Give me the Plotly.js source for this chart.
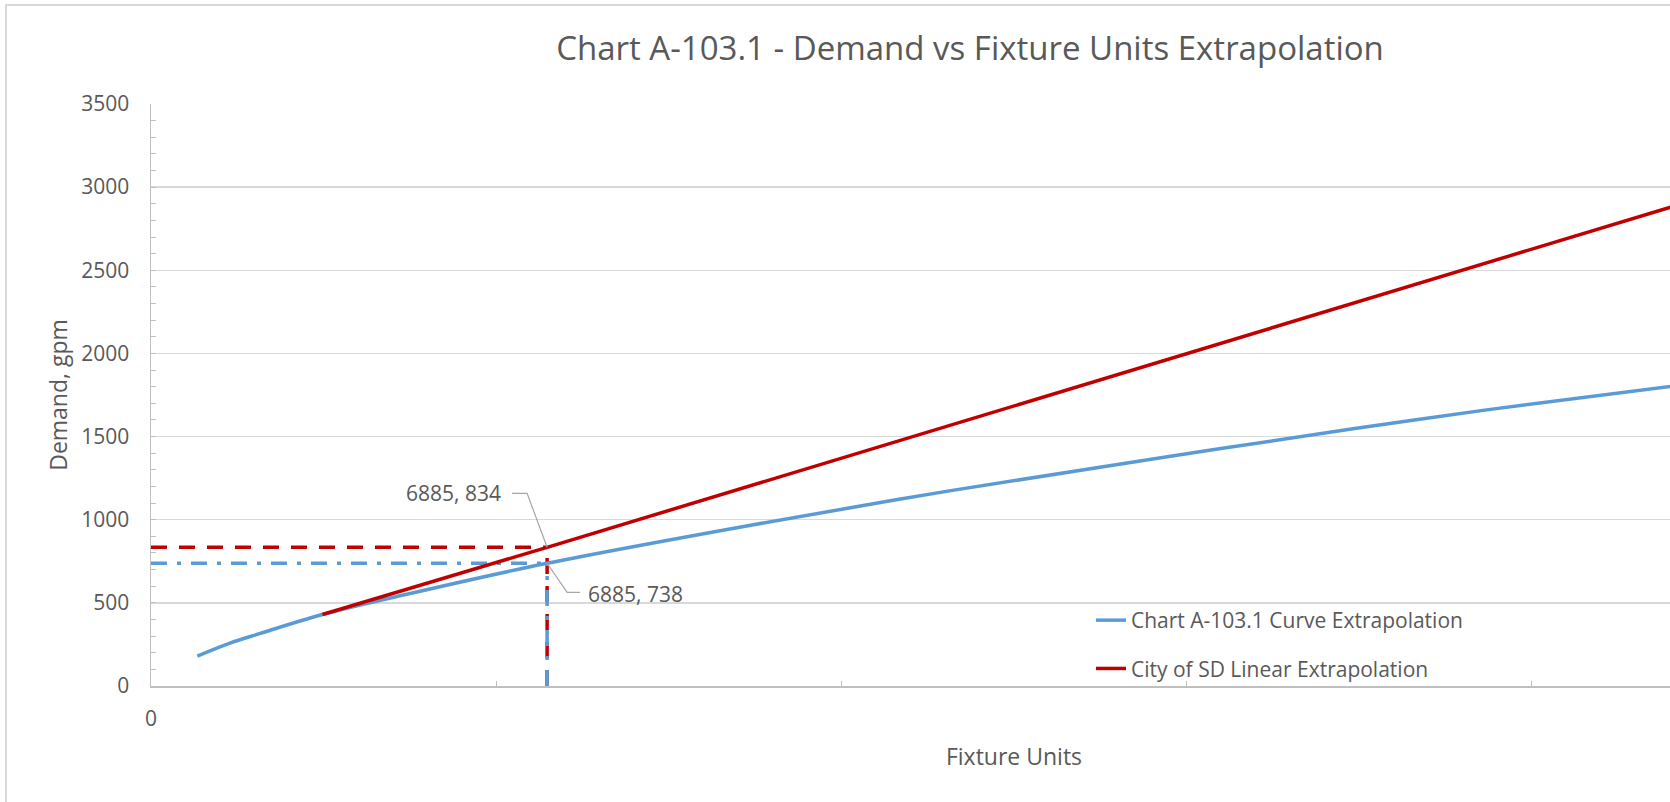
<!DOCTYPE html>
<html>
<head>
<meta charset="utf-8">
<script src="https://cdn.plot.ly/plotly-3.0.1.min.js"></script>
<style>
  html, body { margin: 0; padding: 0; overflow: hidden; background: #ffffff; width: 1670px; height: 802px; }
  #chart { width: 1940px; height: 802px; }
</style>
</head>
<body>
<div id="chart"></div>
<script>
// ---- Data ----
const curveFixtureUnits = [806, 1350, 1897, 2980, 4500, 6885, 10423, 13903, 17383, 20863, 23183, 26500];
const curveDemand       = [180, 255, 316, 430, 556, 738, 967, 1175, 1364, 1545, 1659, 1806];

const linearFixtureUnits = [2980, 6885, 26500];
const linearDemand       = [430, 834, 2889];

const designFixtureUnits = 6885;
const designDemandLinear = 834;
const designDemandCurve  = 738;

const xTickValues = [0, 6000, 12000, 18000, 24000, 30000];
const xTickLabels = ['0', '', '', '', '', ''];

const seriesNames = ['Chart A-103.1 Curve Extrapolation', 'City of SD Linear Extrapolation'];

// ---- Styles ----
const BLUE = '#5b9bd5';
const RED = '#c00000';
const TEXT = '#595959';
const FONT = 'Open Sans, sans-serif';

const traces = [
  { // red dashed horizontal guide
    x: [0, designFixtureUnits], y: [designDemandLinear, designDemandLinear],
    mode: 'lines', showlegend: false, hoverinfo: 'skip',
    line: { color: RED, width: 3.5, dash: '16px,12px' }
  },
  { // blue dash-dot horizontal guide
    x: [0, designFixtureUnits], y: [designDemandCurve, designDemandCurve],
    mode: 'lines', showlegend: false, hoverinfo: 'skip',
    line: { color: BLUE, width: 3.5, dash: '16px,10px,4px,10px' }
  },
  { // red dashed vertical guide
    x: [designFixtureUnits, designFixtureUnits], y: [0, designDemandLinear],
    mode: 'lines', showlegend: false, hoverinfo: 'skip',
    line: { color: RED, width: 3.5, dash: '16px,12px' }
  },
  { // blue dash-dot vertical guide
    x: [designFixtureUnits, designFixtureUnits], y: [0, designDemandCurve],
    mode: 'lines', showlegend: false, hoverinfo: 'skip',
    line: { color: BLUE, width: 3.5, dash: '16px,10px,4px,10px' }
  },
  {
    name: seriesNames[0], legendgroup: 'a',
    x: curveFixtureUnits, y: curveDemand,
    mode: 'lines', line: { color: BLUE, width: 3.5, shape: 'spline', smoothing: 1 }
  },
  {
    name: seriesNames[1], legendgroup: 'b',
    x: linearFixtureUnits, y: linearDemand,
    mode: 'lines', line: { color: RED, width: 3.5 }
  }
];

const layout = {
  width: 1940,
  height: 802,
  margin: { l: 151, r: 63, t: 104, b: 116 },
  paper_bgcolor: '#ffffff',
  plot_bgcolor: '#ffffff',
  font: { family: FONT, color: TEXT, size: 21 },
  title: {
    text: 'Chart A-103.1 - Demand vs Fixture Units Extrapolation',
    font: { family: FONT, size: 33, color: TEXT },
    x: 0.5, xref: 'container', xanchor: 'center',
    y: 1 - 48 / 802, yref: 'container', yanchor: 'middle'
  },
  xaxis: {
    range: [0, 30000],
    tickmode: 'array', tickvals: xTickValues, ticktext: xTickLabels,
    ticks: 'inside', ticklen: 5, tickcolor: '#bfbfbf', tickwidth: 1,
    showgrid: false, zeroline: false,
    showline: true, linecolor: '#bfbfbf', linewidth: 1.5,
    tickfont: { family: FONT, size: 21, color: TEXT },
    ticklabelstandoff: 13,
    title: { text: 'Fixture Units', font: { family: FONT, size: 23, color: TEXT }, standoff: 18 }
  },
  yaxis: {
    range: [0, 3500],
    tickmode: 'linear', tick0: 0, dtick: 500,
    ticks: 'inside', ticklen: 5, tickcolor: '#bfbfbf',
    minor: { dtick: 100, ticks: 'inside', ticklen: 5, tickcolor: '#bfbfbf', showgrid: false },
    showgrid: true, gridcolor: '#d9d9d9', gridwidth: 1.5,
    zeroline: false,
    showline: true, linecolor: '#bfbfbf', linewidth: 1.5,
    tickfont: { family: FONT, size: 21, color: TEXT },
    ticklabelstandoff: 16,
    title: { text: 'Demand, gpm', font: { family: FONT, size: 23, color: TEXT }, standoff: 7 }
  },
  legend: {
    x: (1091 - 151) / 1726, xanchor: 'left',
    y: (686 - 600) / 582, yanchor: 'top',
    bgcolor: 'rgba(0,0,0,0)', borderwidth: 0,
    font: { family: FONT, size: 21, color: TEXT },
    traceorder: 'grouped', tracegroupgap: 18
  },
  shapes: [
    { // chart frame (left and top edges visible; the rest is cropped)
      type: 'rect', xref: 'paper', yref: 'paper',
      x0: (6 - 151) / 1726, x1: 1.2, y0: -0.4, y1: (686 - 5) / 582,
      line: { color: '#d9d9d9', width: 2 }, fillcolor: 'rgba(0,0,0,0)', layer: 'below'
    },
    { // leader line for linear point label
      type: 'path', xref: 'x', yref: 'y',
      xsizemode: 'pixel', ysizemode: 'pixel',
      xanchor: designFixtureUnits, yanchor: designDemandLinear,
      path: 'M0,0L-20,54L-35,54',
      line: { color: '#a6a6a6', width: 1.2 }
    },
    { // leader line for curve point label
      type: 'path', xref: 'x', yref: 'y',
      xsizemode: 'pixel', ysizemode: 'pixel',
      xanchor: designFixtureUnits, yanchor: designDemandCurve,
      path: 'M0,0L20,-29L33,-29',
      line: { color: '#a6a6a6', width: 1.2 }
    }
  ],
  annotations: [
    {
      x: designFixtureUnits, y: designDemandLinear, xref: 'x', yref: 'y',
      text: designFixtureUnits + ', ' + designDemandLinear,
      showarrow: false, xanchor: 'right', yanchor: 'middle',
      xshift: -44, yshift: 54,
      font: { family: FONT, size: 21, color: TEXT }
    },
    {
      x: designFixtureUnits, y: designDemandCurve, xref: 'x', yref: 'y',
      text: designFixtureUnits + ', ' + designDemandCurve,
      showarrow: false, xanchor: 'left', yanchor: 'middle',
      xshift: 39, yshift: -31,
      font: { family: FONT, size: 21, color: TEXT }
    }
  ]
};

Plotly.newPlot('chart', traces, layout, { displayModeBar: false, staticPlot: true });
</script>
</body>
</html>
